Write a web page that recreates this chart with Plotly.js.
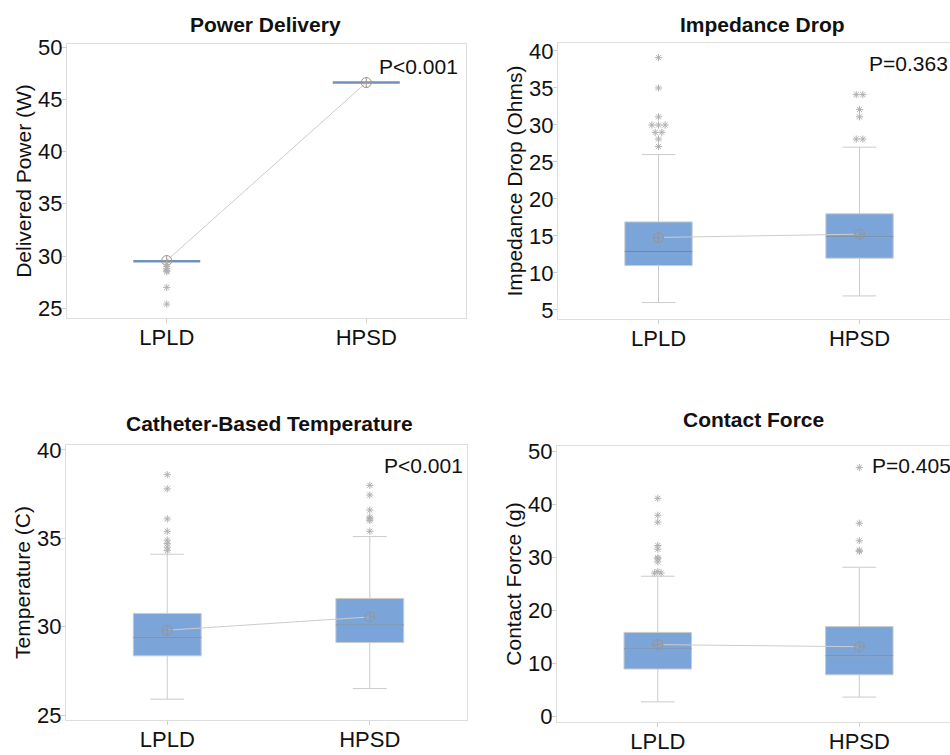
<!DOCTYPE html>
<html>
<head>
<meta charset="utf-8">
<script src="https://cdn.plot.ly/plotly-3.0.1.min.js"></script>
<style>html,body{margin:0;padding:0;background:#fff;}#chart{width:950px;height:755px;}</style>
</head>
<body>
<div id="chart"></div>
<script>
// ---------- DATA ----------
const categories = ['LPLD', 'HPSD'];

// Power Delivery (W)
const powerQ1     = [29.5, 46.6];
const powerMedian = [29.5, 46.6];
const powerQ3     = [29.5, 46.6];
const powerLow    = [29.5, 46.6];
const powerHigh   = [29.5, 46.6];
const powerMean   = [29.57, 46.6];
const powerOutLPLD = [29.2, 29.0, 28.8, 28.6, 28.5, 27.0, 25.4];
const powerOutHPSD = [];

// Impedance Drop (Ohms)
const impQ1     = [11.0, 12.0];
const impMedian = [12.9, 14.9];
const impQ3     = [16.9, 18.0];
const impLow    = [6.0, 6.9];
const impHigh   = [26.0, 27.0];
const impMean   = [14.8, 15.25];
const impOutLPLD = [39.1, 35.0, 31.1, 30.0, 30.0, 30.0, 29.0, 29.0, 28.1, 27.1];
const impOutHPSD = [34.1, 34.1, 32.1, 31.1, 28.1, 28.1];

// Catheter-Based Temperature (C)
const tempQ1     = [28.35, 29.1];
const tempMedian = [29.4, 30.1];
const tempQ3     = [30.75, 31.6];
const tempLow    = [25.9, 26.5];
const tempHigh   = [34.1, 35.1];
const tempMean   = [29.8, 30.55];
const tempOutLPLD = [38.6, 37.8, 36.1, 35.4, 34.9, 34.7, 34.5, 34.3];
const tempOutHPSD = [38.0, 37.45, 36.6, 36.2, 36.1, 36.0, 35.4];

// Contact Force (g)
const cfQ1     = [9.0, 7.9];
const cfMedian = [12.8, 11.5];
const cfQ3     = [15.9, 17.0];
const cfLow    = [2.8, 3.7];
const cfHigh   = [26.5, 28.2];
const cfMean   = [13.6, 13.2];
const cfOutLPLD = [41.2, 38.0, 36.7, 32.3, 31.6, 30.0, 29.8, 29.2, 27.4, 27.1, 27.1];
const cfOutHPSD = [47.0, 36.5, 33.2, 31.4, 31.2];

// ---------- LAYOUT / STYLE ----------
const W = 950, H = 755;
const FONT = 'Liberation Sans, Arial, Helvetica, sans-serif';
const BOXW = 0.335;
const DUP = 0.033;

const panels = [
  {title:'Power Delivery', ytitle:'Delivered Power (W)', p:'P<0.001',
   px:{l:67, r:466, t:44, b:318}, xr:[-0.5, 1.5], yr:[24.07, 50.29], dtick:5,
   q1:powerQ1, med:powerMedian, q3:powerQ3, lo:powerLow, hi:powerHigh, mean:powerMean,
   out:[powerOutLPLD, powerOutHPSD], thick:true, pPos:[377, 66], tPos:[265, 24], right:true},
  {title:'Impedance Drop', ytitle:'Impedance Drop (Ohms)', p:'P=0.363',
   px:{l:558, r:950, t:43, b:319}, xr:[-0.5, 1.45], yr:[3.78, 41.08], dtick:5,
   q1:impQ1, med:impMedian, q3:impQ3, lo:impLow, hi:impHigh, mean:impMean,
   out:[impOutLPLD, impOutHPSD], thick:false, pPos:[867, 64], tPos:[762, 24], right:false},
  {title:'Catheter-Based Temperature', ytitle:'Temperature (C)', p:'P<0.001',
   px:{l:66, r:467, t:445, b:720}, xr:[-0.5, 1.48], yr:[24.72, 40.28], dtick:5,
   q1:tempQ1, med:tempMedian, q3:tempQ3, lo:tempLow, hi:tempHigh, mean:tempMean,
   out:[tempOutLPLD, tempOutHPSD], thick:false, pPos:[382, 465], tPos:[269, 423], right:true},
  {title:'Contact Force', ytitle:'Contact Force (g)', p:'P=0.405',
   px:{l:557, r:950, t:446, b:722}, xr:[-0.5, 1.45], yr:[-1.0, 51.07], dtick:10,
   q1:cfQ1, med:cfMedian, q3:cfQ3, lo:cfLow, hi:cfHigh, mean:cfMean,
   out:[cfOutLPLD, cfOutHPSD], thick:false, pPos:[870, 465], tPos:[753, 420], right:false}
];

const traces = [];
const layout = {
  width: W, height: H,
  margin: {l:0, r:0, t:0, b:0},
  paper_bgcolor: '#ffffff', plot_bgcolor: '#ffffff',
  showlegend: false,
  font: {family: FONT, color: '#111111', size: 22},
  annotations: []
};

panels.forEach((pn, i) => {
  const s = i === 0 ? '' : String(i + 1);
  const xa = 'x' + s, ya = 'y' + s;
  const xs = [0, 1];

  layout['xaxis' + s] = {
    domain: [pn.px.l / W, pn.px.r / W], range: pn.xr, anchor: ya,
    tickmode: 'array', tickvals: xs, ticktext: categories,
    showline: true, linecolor: '#dedede', linewidth: 1, mirror: true,
    ticks: 'outside', ticklen: 4, tickcolor: '#cfcfcf', tickwidth: 1,
    ticklabelstandoff: -4,
    showgrid: false, zeroline: false,
    tickfont: {family: FONT, size: 22, color: '#111'}
  };
  layout['yaxis' + s] = {
    domain: [1 - pn.px.b / H, 1 - pn.px.t / H], range: pn.yr, anchor: xa,
    tick0: 0, dtick: pn.dtick,
    showline: true, linecolor: '#dedede', linewidth: 1, mirror: pn.right,
    ticks: 'outside', ticklen: 4, tickcolor: '#cfcfcf', tickwidth: 1,
    ticklabelstandoff: -5,
    showgrid: false, zeroline: false,
    tickfont: {family: FONT, size: 22, color: '#111'},
    title: {text: pn.ytitle, font: {family: FONT, size: 21, color: '#111'}, standoff: 0}
  };

  // boxes (precomputed statistics)
  traces.push({
    type: 'box', x: xs, q1: pn.q1, median: pn.med, q3: pn.q3,
    lowerfence: pn.lo, upperfence: pn.hi,
    xaxis: xa, yaxis: ya, width: BOXW, boxpoints: false,
    fillcolor: '#7ba5d9', line: {color: '#cbcbcb', width: 1},
    hoverinfo: 'skip'
  });

  // median lines
  const mx = [], my = [];
  xs.forEach((x, k) => { mx.push(x - BOXW / 2, x + BOXW / 2, null); my.push(pn.med[k], pn.med[k], null); });
  traces.push({
    type: 'scatter', mode: 'lines', x: mx, y: my, xaxis: xa, yaxis: ya,
    line: {color: pn.thick ? '#7091c0' : '#6a87ae', width: pn.thick ? 2.5 : 1},
    hoverinfo: 'skip'
  });

  // mean connect line + markers
  traces.push({
    type: 'scatter', mode: 'lines+markers', x: xs, y: pn.mean, xaxis: xa, yaxis: ya,
    line: {color: '#cccccc', width: 1},
    marker: {symbol: 'circle-cross-open', size: 10, color: '#959595', line: {width: 1, color: '#959595'}},
    hoverinfo: 'skip'
  });

  // outliers (identical values spread side by side)
  const ox = [], oy = [];
  pn.out.forEach((vals, k) => {
    const counts = {};
    vals.forEach(v => { counts[v] = (counts[v] || 0) + 1; });
    const seen = {};
    vals.forEach(v => {
      const n = counts[v]; const j = seen[v] || 0; seen[v] = j + 1;
      ox.push(xs[k] + (j - (n - 1) / 2) * DUP); oy.push(v);
    });
  });
  traces.push({
    type: 'scatter', mode: 'markers', x: ox, y: oy, xaxis: xa, yaxis: ya,
    marker: {symbol: 'asterisk-open', size: 6, color: '#b0b0b0', line: {width: 1, color: '#b0b0b0'}},
    hoverinfo: 'skip'
  });

  // titles and p-values
  layout.annotations.push({
    xref: 'paper', yref: 'paper', x: pn.tPos[0] / W, y: 1 - pn.tPos[1] / H,
    xanchor: 'center', yanchor: 'middle', showarrow: false, text: pn.title,
    font: {family: FONT, size: 21, color: '#111', weight: 700}
  });
  layout.annotations.push({
    xref: 'paper', yref: 'paper', x: pn.pPos[0] / W, y: 1 - pn.pPos[1] / H,
    xanchor: 'left', yanchor: 'middle', showarrow: false, text: pn.p,
    font: {family: FONT, size: 21, color: '#111'}
  });
});

Plotly.newPlot('chart', traces, layout, {staticPlot: true, displayModeBar: false});
</script>
</body>
</html>
